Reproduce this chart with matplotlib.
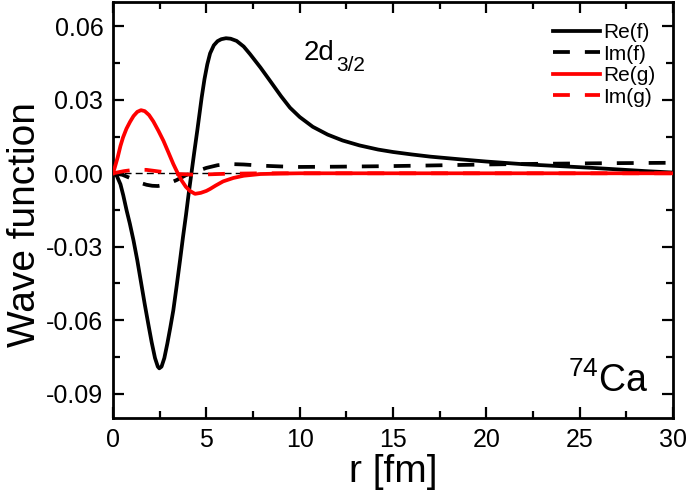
import matplotlib
matplotlib.use("Agg")
import matplotlib.pyplot as plt
from matplotlib.ticker import MultipleLocator, FormatStrFormatter

plt.rcParams['font.family'] = ['Liberation Sans', 'DejaVu Sans']
plt.rcParams['mathtext.fontset'] = 'custom'
plt.rcParams['mathtext.rm'] = 'Liberation Sans'

# Re(f)
r_ref = [0, 0.2, 0.4, 0.55, 0.73, 0.9, 1.1, 1.3, 1.5, 1.7, 1.9, 2.07, 2.25, 2.4, 2.48, 2.6,
         2.75, 2.91, 3.07, 3.23, 3.41, 3.59, 3.75, 3.91, 4.05, 4.2, 4.35, 4.52, 4.75, 4.9,
         5.05, 5.2, 5.4, 5.6, 5.8, 6.05, 6.3, 6.62, 7.0, 7.34, 7.9, 8.41, 9.0, 9.48, 10.0,
         10.7, 11.5, 12.3, 13.2, 14.2, 15.0, 16.0, 17.0, 18.6, 20.0, 22.0, 24.0, 25.7,
         27.0, 28.5, 30.0]
re_f = [0, -0.001, -0.0045, -0.009, -0.0152, -0.0205, -0.0275, -0.0355, -0.0445, -0.0535,
        -0.062, -0.0690, -0.0755, -0.0790, -0.0797, -0.0790, -0.0755, -0.0696, -0.063,
        -0.056, -0.046, -0.0356, -0.026, -0.017, -0.0085, 0.0, 0.0085, 0.0178, 0.031,
        0.0385, 0.0445, 0.0490, 0.0523, 0.0540, 0.0548, 0.0552, 0.0550, 0.0541, 0.0518,
        0.0487, 0.0432, 0.0378, 0.0315, 0.0268, 0.0230, 0.0190, 0.0158, 0.0134, 0.0114,
        0.0097, 0.0087, 0.0077, 0.0068, 0.0057, 0.0048, 0.0037, 0.0029, 0.0022, 0.0016,
        0.0009, 0.0003]

# Im(f)
r_imf = [0, 0.5, 1.0, 1.5, 1.8, 2.1, 2.4, 2.7, 3.0, 3.4, 3.9, 4.4, 5.0, 5.6, 6.2, 7.0,
         8.0, 9.0, 10, 12, 14.5, 17, 20, 23, 26, 30]
im_f = [0, -0.0006, -0.0022, -0.004, -0.0047, -0.0051, -0.0052, -0.0048, -0.0041,
        -0.0028, -0.0008, 0.0006, 0.0022, 0.0033, 0.0038, 0.0036, 0.0031, 0.0028, 0.0026,
        0.0027, 0.0029, 0.0032, 0.0036, 0.0039, 0.0041, 0.0043]

# Re(g)
r_reg = [0, 0.1, 0.25, 0.4, 0.54, 0.72, 0.91, 1.1, 1.3, 1.5, 1.7, 1.93, 2.16, 2.43, 2.7,
         2.97, 3.23, 3.45, 3.68, 3.9, 4.12, 4.39, 4.7, 5.0, 5.2, 5.5, 5.9, 6.45, 7.0, 7.9,
         9.0, 10, 15, 20, 25, 30]
re_g = [0, 0.0025, 0.0065, 0.0112, 0.0147, 0.0182, 0.0210, 0.0234, 0.0251, 0.0258,
        0.0254, 0.0238, 0.0212, 0.0174, 0.0133, 0.0085, 0.0038, 0.0003, -0.003, -0.0055,
        -0.0072, -0.0084, -0.0080, -0.0072, -0.0064, -0.0050, -0.0033, -0.0019, -0.0010,
        -0.0003, -0.0001, 0.0, 0.0, 0.0, 0.0, 0.0]

# Im(g)
r_img = [0, 0.6, 1.2, 1.8, 2.3, 2.7, 3.1, 3.5, 4.5, 6.0, 8.0, 12, 20, 30]
im_g = [0, 0.0009, 0.0015, 0.0014, 0.0009, 0.0005, 0.0001, -0.0003, -0.0006, -0.0002,
        0.0, 0.0, 0.0, 0.0]

xticks = [0, 5, 10, 15, 20, 25, 30]
yticks = [-0.09, -0.06, -0.03, 0.00, 0.03, 0.06]

fig = plt.figure(figsize=(6.89, 5.0), dpi=100)
ax = fig.add_axes([0.164, 0.164, 0.813, 0.832])

ax.axhline(0, color='black', lw=1.0, ls=(0, (5, 3)), zorder=1)
lw = 2.7
dash = (0, (4.5, 4))
ax.plot(r_ref, re_f, color='black', lw=lw, ls='-', label='Re(f)', zorder=3,
        solid_joinstyle='round')
ax.plot(r_imf, im_f, color='black', lw=lw, ls=dash, label='Im(f)', zorder=3)
ax.plot(r_reg, re_g, color='#ff0000', lw=lw, ls='-', label='Re(g)', zorder=4,
        solid_joinstyle='round')
ax.plot(r_img, im_g, color='#ff0000', lw=lw, ls=dash, label='Im(g)', zorder=4)

ax.set_xlim(0, 30)
ax.set_ylim(-0.1, 0.07)
ax.set_xticks(xticks)
ax.set_yticks(yticks)
ax.xaxis.set_minor_locator(MultipleLocator(2.5))
ax.yaxis.set_minor_locator(MultipleLocator(0.015))
ax.yaxis.set_major_formatter(FormatStrFormatter('%.2f'))

ax.tick_params(which='both', direction='in', top=True, right=True, width=1.6,
               labelsize=18, pad=7)
ax.tick_params(which='major', length=8)
ax.tick_params(which='minor', length=5)
for s in ax.spines.values():
    s.set_linewidth(2.0)

ax.set_xlabel('r [fm]', fontsize=28, labelpad=2)
ax.set_ylabel('Wave function', fontsize=28, labelpad=2)
ax.yaxis.label.set_y(0.464)

leg = ax.legend(loc='upper right', frameon=False, fontsize=15, handlelength=2.25,
                handletextpad=0.15, labelspacing=0.12, borderaxespad=0.0,
                bbox_to_anchor=(0.983, 0.969))

ax.text(0.341, 0.86, '2d', transform=ax.transAxes, fontsize=20)
ax.text(0.398, 0.834, '3/2', transform=ax.transAxes, fontsize=15)
ax.text(0.812, 0.062, r'$^{74}$Ca', transform=ax.transAxes, fontsize=27)

fig.savefig('out.png', dpi=100)
